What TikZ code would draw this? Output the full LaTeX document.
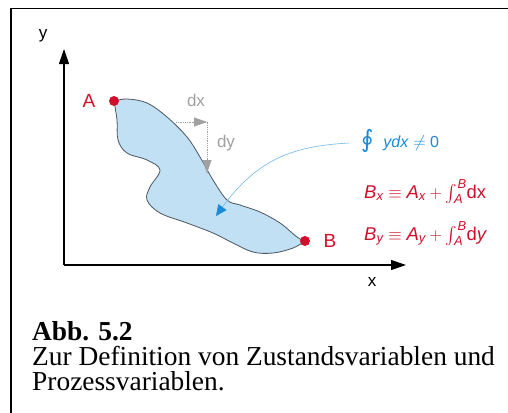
\documentclass[tikz,border=0pt]{standalone}
\usepackage{amsmath}
\usepackage{fontspec}
\setmainfont{Liberation Sans}
\newfontfamily\capfont{Liberation Serif}
\newfontfamily\symbfont{DejaVu Sans}
\usetikzlibrary{arrows.meta,calc,positioning}
\definecolor{blobfill}{HTML}{C2E0F4}
\definecolor{blobline}{HTML}{4A5560}
\definecolor{pointred}{HTML}{D0102A}
\definecolor{steelgrey}{HTML}{A0A0A0}
\definecolor{pathblue}{HTML}{6DB8E6}
\definecolor{tipblue}{HTML}{1A8AD6}
\tikzset{
  axis/.style={line width=1.1pt,-{Triangle[length=15pt,width=10pt]}},
  statedot/.style={circle,fill=pointred,inner sep=0pt,minimum size=10pt},
  statelbl/.style={text=pointred,font=\fontsize{19}{22}\selectfont},
  incr/.style={steelgrey,densely dotted,line width=0.8pt},
  incrtip/.style={-{Triangle[length=13pt,width=9pt]}},
  formula/.style={text=pointred,font=\fontsize{18.5}{20}\selectfont,inner sep=0pt},
  capline/.style={font=\capfont\fontsize{27.4}{25}\selectfont,anchor=base west,inner sep=0pt},
}
\begin{document}
\begin{tikzpicture}[x=1pt,y=-1pt]
  \useasboundingbox (0,0) rectangle (508,412);
  % frame
  \draw[line width=1.5pt] (11,415) -- (11,8.5) -- (511,8.5);
  % axes
  \coordinate (O) at (64,265);
  \coordinate (xend) at (406,265);
  \coordinate (yend) at (64,49);
  \draw[axis] (O) -- (xend);
  \draw[axis] (O) -- (yend);
  \node[font=\fontsize{17}{20}\selectfont] (xlbl) at (372,282) {x};
  \node[font=\fontsize{17}{20}\selectfont] (ylbl) at (43,36) {y};
  % the area between the two paths
  \draw[blobline,fill=blobfill,line width=0.8pt]
    plot[smooth,tension=0.6] coordinates {
      (114,101) (127,99) (147,103) (167,117) (187,137) (200,157)
      (213,180) (227,200) (240,205) (260,212) (280,223) (297,237) (305,241)}
    -- plot[smooth,tension=0.6] coordinates {
      (305,241) (293,248) (273,253) (253,252) (233,243) (213,233)
      (187,223) (160,213) (147,200) (150,187) (160,170) (147,160)
      (127,153) (118,140) (117,120) (114,101)}
    -- cycle;
  % states
  \node[statedot] (A) at (114,101) {};
  \node[statedot] (B) at (305,241) {};
  \node[statelbl,left=10pt of A] (Albl) {A};
  \node[statelbl,right=10pt of B] (Blbl) {B};
  % increments
  \coordinate (dxs) at (176,122);
  \coordinate (dxc) at (207,122);
  \coordinate (dye) at (207,173);
  \draw[incr] (dxs) -- (dxc) -- (dye);
  \draw[steelgrey,incrtip] ($(dxc)+(-14,0)$) -- (dxc);
  \draw[steelgrey,incrtip] ($(dye)+(0,-14)$) -- (dye);
  \node[text=steelgrey,font=\fontsize{17}{20}\selectfont] (dxlbl) at (196,100) {dx};
  \node[text=steelgrey,font=\fontsize{17}{20}\selectfont] (dylbl) at (226,143) {dy};
  % loop integral
  \node[text=tipblue,font=\fontsize{16}{18}\selectfont,anchor=west,inner sep=0pt] (oint) at (361,141)
    {{\symbfont\fontsize{24}{24}\selectfont ∮}\,\, \textit{ydx} $\neq$ 0};
  \coordinate (tip) at (216,216);
  \draw[pathblue,line width=0.6pt,-{Triangle[length=11pt,width=10pt,fill=tipblue,color=tipblue]}]
    ([xshift=-12pt,yshift=-2pt]oint.west) .. controls (295,146) and (258,158) .. (tip);
  % state variables
  \node[formula,anchor=base west] (Bx) at (364,198)
    {$\textit{B}_{\textit{x}}\equiv\textit{A}_{\textit{x}}+\int_{\textit{A}}^{\textit{B}}\!\text{dx}$};
  \node[formula,anchor=base west] (By) at (364,240)
    {$\textit{B}_{\textit{y}}\equiv\textit{A}_{\textit{y}}+\int_{\textit{A}}^{\textit{B}}\!\text{d}\textit{y}$};
  % caption
  \node[capline,font=\capfont\bfseries\fontsize{27.4}{25}\selectfont] (captitle) at (32,340) {Abb. 5.2};
  \node[capline] (capone) at (32,365) {Zur Definition von Zustandsvariablen und};
  \node[capline] (captwo) at (32,390) {Prozessvariablen.};
\end{tikzpicture}
\end{document}
